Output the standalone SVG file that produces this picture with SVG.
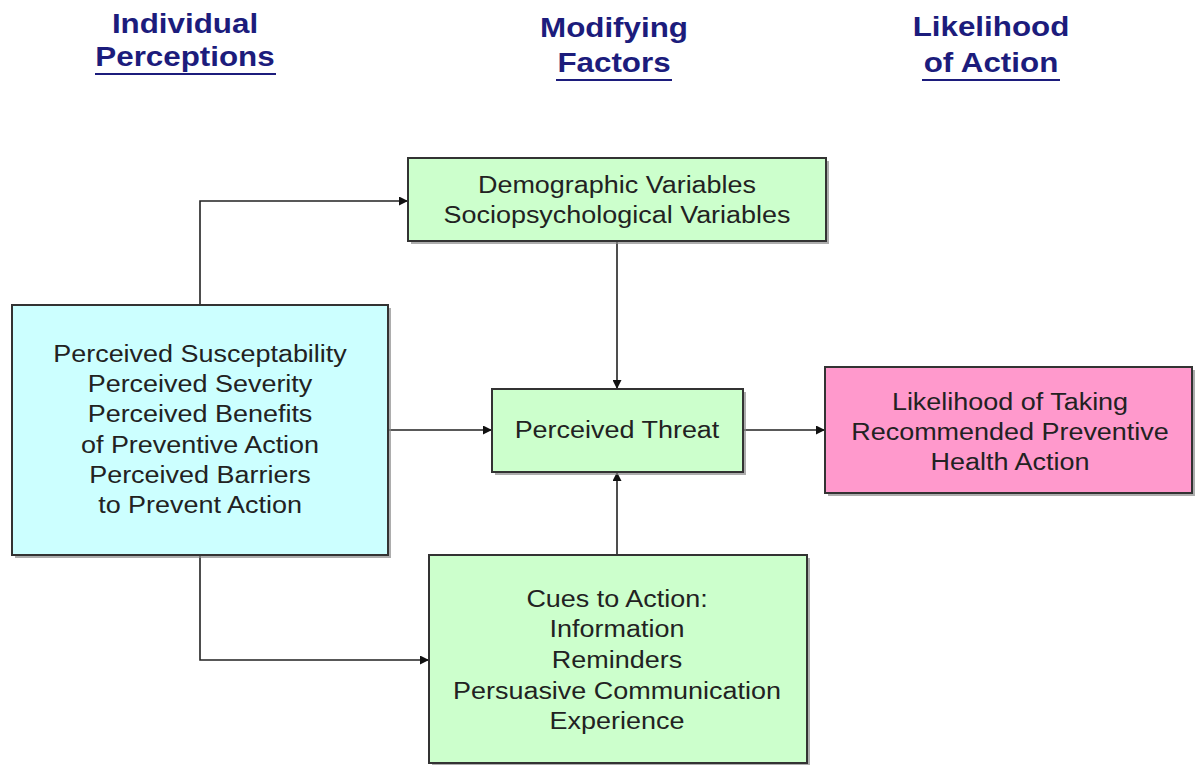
<svg xmlns="http://www.w3.org/2000/svg" width="1195" height="765" viewBox="0 0 1195 765">
  <style>
    .hdr { font-family: "Liberation Sans", Arial, sans-serif; font-weight: bold; font-size: 28.5px; fill: #1c1c7c; text-anchor: middle; }
    .uline { stroke: #1c1c7c; stroke-width: 2.2; }
    .lbl { font-family: "Liberation Sans", Arial, sans-serif; font-size: 24.5px; fill: #222; text-anchor: middle; }
    .box { stroke: #333; stroke-width: 2; }
    .shadow { fill: #8a8a8a; opacity: 0.7; }
    .conn { fill: none; stroke: #222; stroke-width: 1.6; }
  </style>
  <defs>
    <marker id="arrow" viewBox="0 0 10 10" refX="10" refY="5" markerWidth="11" markerHeight="9" markerUnits="userSpaceOnUse" orient="auto">
      <path d="M0,0 L10,5 L0,10 Z" fill="#111"/>
    </marker>
  </defs>
  <rect width="1195" height="765" fill="#ffffff"/>

  <!-- Column headings -->
  <g id="headings">
    <g transform="translate(185,0) scale(1.1,1)">
      <text class="hdr" x="0" y="33">Individual</text>
      <text class="hdr" x="0" y="66">Perceptions</text>
    </g>
    <line class="uline" x1="95" y1="74" x2="276" y2="74"/>
    <g transform="translate(614,0) scale(1.1,1)">
      <text class="hdr" x="0" y="37">Modifying</text>
      <text class="hdr" x="0" y="72">Factors</text>
    </g>
    <line class="uline" x1="556" y1="80" x2="672" y2="80"/>
    <g transform="translate(991,0) scale(1.1,1)">
      <text class="hdr" x="0" y="36">Likelihood</text>
      <text class="hdr" x="0" y="72">of Action</text>
    </g>
    <line class="uline" x1="922" y1="80" x2="1060" y2="80"/>
  </g>

  <!-- Connectors -->
  <g id="connectors">
    <path class="conn" d="M200,305 V201 H408" marker-end="url(#arrow)"/>
    <path class="conn" d="M388,430 H492" marker-end="url(#arrow)"/>
    <path class="conn" d="M617,241 V389" marker-end="url(#arrow)"/>
    <path class="conn" d="M617,555 V472" marker-end="url(#arrow)"/>
    <path class="conn" d="M743,430 H825" marker-end="url(#arrow)"/>
    <path class="conn" d="M200,556 V660 H429" marker-end="url(#arrow)"/>
  </g>

  <!-- Individual perceptions -->
  <g id="perceptions">
    <rect class="shadow" x="15" y="308" width="376" height="250"/>
    <rect class="box" x="12" y="305" width="376" height="250" fill="#ccffff"/>
    <g transform="translate(200,0) scale(1.1,1)">
      <text class="lbl" x="0" y="362">Perceived Susceptability</text>
      <text class="lbl" x="0" y="392">Perceived Severity</text>
      <text class="lbl" x="0" y="422">Perceived Benefits</text>
      <text class="lbl" x="0" y="453">of Preventive Action</text>
      <text class="lbl" x="0" y="483">Perceived Barriers</text>
      <text class="lbl" x="0" y="513">to Prevent Action</text>
    </g>
  </g>

  <!-- Modifying factors -->
  <g id="variables">
    <rect class="shadow" x="411" y="161" width="418" height="83"/>
    <rect class="box" x="408" y="158" width="418" height="83" fill="#ccffcc"/>
    <g transform="translate(617,0) scale(1.1,1)">
      <text class="lbl" x="0" y="193">Demographic Variables</text>
      <text class="lbl" x="0" y="223">Sociopsychological Variables</text>
    </g>
  </g>

  <g id="threat">
    <rect class="shadow" x="495" y="392" width="251" height="83"/>
    <rect class="box" x="492" y="389" width="251" height="83" fill="#ccffcc"/>
    <g transform="translate(617,0) scale(1.1,1)">
      <text class="lbl" x="0" y="438">Perceived Threat</text>
    </g>
  </g>

  <g id="cues">
    <rect class="shadow" x="432" y="558" width="378" height="208"/>
    <rect class="box" x="429" y="555" width="378" height="208" fill="#ccffcc"/>
    <g transform="translate(617,0) scale(1.1,1)">
      <text class="lbl" x="0" y="607">Cues to Action:</text>
      <text class="lbl" x="0" y="637">Information</text>
      <text class="lbl" x="0" y="668">Reminders</text>
      <text class="lbl" x="0" y="699">Persuasive Communication</text>
      <text class="lbl" x="0" y="729">Experience</text>
    </g>
  </g>

  <!-- Likelihood of action -->
  <g id="likelihood">
    <rect class="shadow" x="828" y="370" width="367" height="126"/>
    <rect class="box" x="825" y="367" width="367" height="126" fill="#ff99cc"/>
    <g transform="translate(1010,0) scale(1.1,1)">
      <text class="lbl" x="0" y="410">Likelihood of Taking</text>
      <text class="lbl" x="0" y="440">Recommended Preventive</text>
      <text class="lbl" x="0" y="470">Health Action</text>
    </g>
  </g>
</svg>
